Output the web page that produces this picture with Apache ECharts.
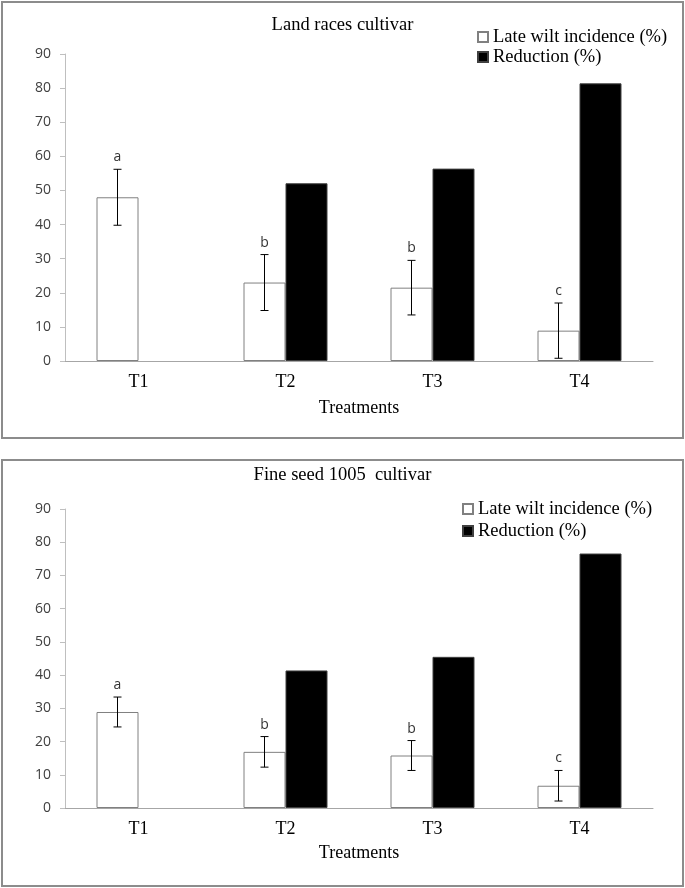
<!DOCTYPE html>
<html><head><meta charset="utf-8">
<script src="https://cdn.jsdelivr.net/npm/echarts@6/dist/echarts.min.js"></script>
<style>html,body{margin:0;padding:0;background:#fff}#c{width:685px;height:888px}</style>
</head><body><div id="c"></div>
<script>
const categories = ['T1','T2','T3','T4'];
const yTicks = [0,10,20,30,40,50,60,70,80,90];
// Panel 1: Land races cultivar
const land_incidence = [48.0, 23.0, 21.5, 8.9];
const land_error = [8.2, 8.2, 8.0, 8.1];
const land_reduction = [null, 52.1, 56.4, 81.4];
const land_letters = ['a','b','b','c'];
// Panel 2: Fine seed 1005 cultivar
const fine_incidence = [28.9, 16.9, 15.8, 6.7];
const fine_error = [4.5, 4.6, 4.5, 4.6];
const fine_reduction = [null, 41.4, 45.5, 76.6];
const fine_letters = ['a','b','b','c'];

const titles = ['Land races cultivar', 'Fine seed 1005  cultivar'];
const seriesNames = ['Late wilt incidence (%)', 'Reduction (%)'];

const BAR_W = 42;
const SERIF = '"Liberation Serif", "Times New Roman", serif';
const SANS = '"Open Sans", "Noto Sans", sans-serif';

const panels = [
  {inc: land_incidence, err: land_error, red: land_reduction, let: land_letters, top: 54, bottom: 361,
   box: [2, 2, 681, 436], titleTop: 15.5, legendTop: 27, legendLeft: 477, legendGap: 0, nameGap: 38},
  {inc: fine_incidence, err: fine_error, red: fine_reduction, let: fine_letters, top: 509, bottom: 808,
   box: [2, 460, 681, 426], titleTop: 465.5, legendTop: 499, legendLeft: 462, legendGap: 2, nameGap: 36}
];

const grid = [], xAxis = [], yAxis = [], series = [], title = [], legend = [], graphic = [];
panels.forEach((p, i) => {
  graphic.push({type: 'rect', shape: {x: p.box[0], y: p.box[1], width: p.box[2], height: p.box[3]},
    style: {fill: 'none', stroke: '#8c8c8c', lineWidth: 2}, z: 0});
  grid.push({left: 65, width: 588, top: p.top, height: p.bottom - p.top});
  title.push({text: titles[i], left: 'center', top: p.titleTop, padding: 0,
    textStyle: {fontFamily: SERIF, fontSize: 18.5, fontWeight: 'normal', color: '#000', lineHeight: 20}});
  legend.push({data: seriesNames.map(n => ({name: n})), orient: 'vertical', left: p.legendLeft, top: p.legendTop,
    padding: 0, itemWidth: 10, itemHeight: 10, itemGap: p.legendGap, icon: 'rect',
    textStyle: {fontFamily: SERIF, fontSize: 18.5, color: '#000', lineHeight: 20}, selectedMode: false});
  xAxis.push({type: 'category', gridIndex: i, data: categories,
    axisLine: {lineStyle: {color: '#a6a6a6', width: 1}}, axisTick: {show: false},
    axisLabel: {fontFamily: SERIF, fontSize: 18, color: '#000', margin: 12},
    name: 'Treatments', nameLocation: 'middle', nameGap: p.nameGap,
    nameTextStyle: {fontFamily: SERIF, fontSize: 18, color: '#000'}});
  yAxis.push({type: 'value', gridIndex: i, min: 0, max: 90, interval: 10,
    axisLine: {show: true, lineStyle: {color: '#bfbfbf'}},
    axisTick: {show: true, length: 5, lineStyle: {color: '#bfbfbf'}},
    splitLine: {show: false},
    axisLabel: {fontFamily: SANS, fontSize: 14, color: '#404040', margin: 14,
      formatter: v => yTicks.includes(v) ? String(v) : ''}});
  series.push({name: seriesNames[0], type: 'bar', xAxisIndex: i, yAxisIndex: i, data: p.inc,
    barWidth: BAR_W, barGap: '0%',
    itemStyle: {color: '#fff', borderColor: '#808080', borderWidth: 1}});
  series.push({name: seriesNames[1], type: 'bar', xAxisIndex: i, yAxisIndex: i, data: p.red.map(v => v == null ? '-' : v),
    barWidth: BAR_W, barGap: '0%',
    itemStyle: {color: '#000', borderColor: '#404040', borderWidth: 1}});
  const errData = p.inc.map((v, k) => [k, v, p.err[k]]);
  series.push({type: 'custom', xAxisIndex: i, yAxisIndex: i, data: errData, z: 10,
    renderItem: (params, api) => {
      const k = api.value(0), v = api.value(1), e = api.value(2);
      const letter = p.let[params.dataIndex];
      const hi = api.coord([k, v + e]);
      const lo = api.coord([k, v - e]);
      const x = hi[0] - BAR_W / 2;
      const cap = 4;
      const st = {stroke: '#000', lineWidth: 1};
      return {type: 'group', children: [
        {type: 'line', shape: {x1: x, y1: hi[1], x2: x, y2: lo[1]}, style: st},
        {type: 'line', shape: {x1: x - cap, y1: hi[1], x2: x + cap, y2: hi[1]}, style: st},
        {type: 'line', shape: {x1: x - cap, y1: lo[1], x2: x + cap, y2: lo[1]}, style: st},
        {type: 'text', style: {text: letter, x: x, y: hi[1] - 12, align: 'center', verticalAlign: 'middle',
          font: '14px ' + SANS, fill: '#333'}}
      ]};
    }});
});

const chart = echarts.init(document.getElementById('c'), null, {renderer: 'canvas'});
chart.setOption({
  backgroundColor: '#fff', animation: false,
  title, legend, grid, xAxis, yAxis, series, graphic
});
</script></body></html>
